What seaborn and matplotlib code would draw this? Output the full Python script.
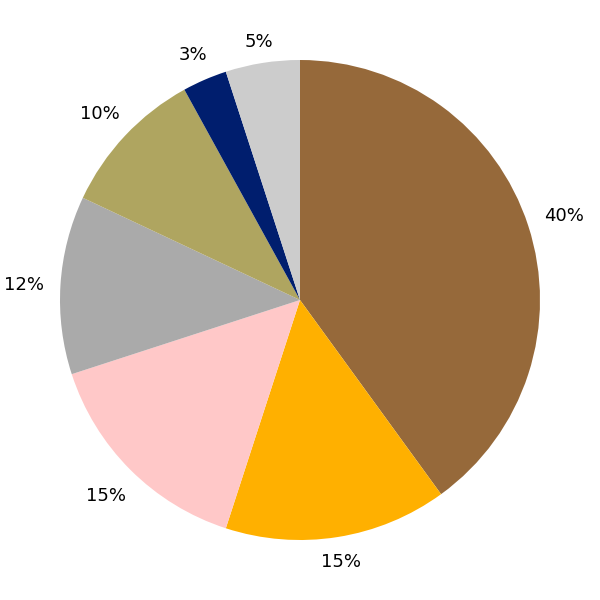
import numpy as np
import matplotlib
matplotlib.use("Agg")
import matplotlib.pyplot as plt
import seaborn as sns

# Slice data, clockwise from 12 o'clock
labels = ["A", "B", "C", "D", "E", "F", "G"]
values = [40, 15, 15, 12, 10, 3, 5]
colors = ["#96693A", "#FFB000", "#FFC8C8", "#AAAAAA", "#AFA560", "#001E6E", "#CCCCCC"]

sns.set_theme(style="white")
plt.rcParams['font.family'] = ['DejaVu Sans']
palette = sns.color_palette(colors)

fig = plt.figure(figsize=(6, 6), dpi=100)
ax = fig.add_axes([0, 0, 1, 1])
wedges, texts, autotexts = ax.pie(
    values, colors=palette, startangle=90, counterclock=False,
    autopct=lambda p: f"{p:.0f}%", pctdistance=1.1,
    wedgeprops={'linewidth': 0},
    textprops={'fontsize': 13, 'color': 'black'})

# push labels out so their box edge sits just outside the rim
for w, t in zip(wedges, autotexts):
    ang = np.deg2rad((w.theta1 + w.theta2) / 2)
    c, s = np.cos(ang), np.sin(ang)
    d = 1.05 + 0.10 * abs(c) + 0.033 * abs(s)
    t.set_position((d * c, d * s))
    t.set_verticalalignment('center_baseline')

ax.set_xlim(-1.25, 1.25)
ax.set_ylim(-1.25, 1.25)
ax.set_aspect('equal')
ax.axis('off')
fig.savefig("out.png", dpi=100, facecolor="white")
